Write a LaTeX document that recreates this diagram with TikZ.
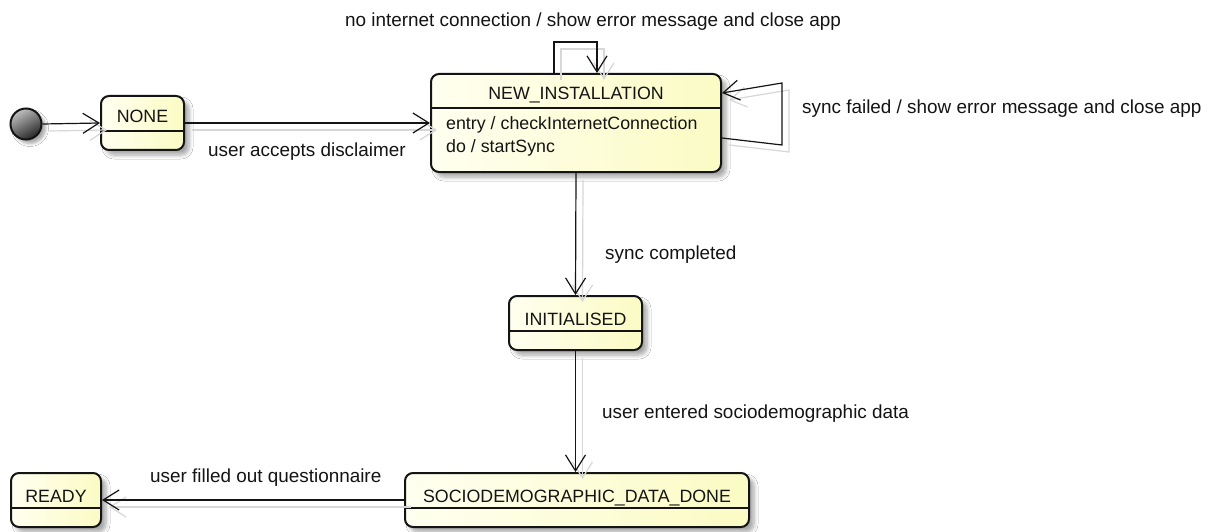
\documentclass[tikz,border=0pt]{standalone}
\usepackage{fontspec}
\setmainfont{Liberation Sans}
\usetikzlibrary{arrows.meta, shadows.blur}

\definecolor{stateLight}{RGB}{255,255,240}
\definecolor{stateDark}{RGB}{251,251,196}
\definecolor{ghost}{RGB}{215,215,215}
\definecolor{ink}{RGB}{20,20,20}

\begin{document}
\begin{tikzpicture}[x=1pt, y=-1pt,
  statebox/.style={draw=ink, line width=2pt, rounded corners=8pt, inner sep=0pt,
    left color=stateLight, right color=stateDark,
    blur shadow={shadow xshift=5pt, shadow yshift=-5pt, shadow blur radius=4pt,
      shadow blur steps=6, shadow opacity=35}},
  startdot/.style={circle, draw=ink, line width=2pt, minimum size=31pt, inner sep=0pt,
    shading=axis, top color=gray!50, bottom color=black!85, shading angle=30,
    blur shadow={shadow xshift=4pt, shadow yshift=-4pt, shadow blur radius=3pt,
      shadow blur steps=5, shadow opacity=35}},
  stitle/.style={inner sep=0pt, text=ink, font=\fontsize{17.8pt}{20pt}\selectfont},
  lbl/.style={inner sep=0pt, text=ink, anchor=base west, font=\fontsize{18.9pt}{21pt}\selectfont},
  divider/.style={draw=ink, line width=1.3pt},
  conn/.style={draw=ink, line width=1.2pt, -{Straight Barb[length=16pt, width=20pt, line width=1.2pt]},
    preaction={draw=ghost, line width=1.2pt, transform canvas={shift={(7pt,-7pt)}}}}
]
\useasboundingbox[fill=white] (0,0) rectangle (1210,532);

% initial pseudo-state
\node[startdot] (start) at (26,124) {};

% states
\node[statebox, minimum width=83pt,  minimum height=54pt] (none)    at (142.5,123) {};
\node[statebox, minimum width=290pt, minimum height=98pt] (newinst) at (576,123)   {};
\node[statebox, minimum width=133pt, minimum height=54pt] (init)    at (575.5,323) {};
\node[statebox, minimum width=344pt, minimum height=54pt] (socio)   at (577,500)   {};
\node[statebox, minimum width=90pt,  minimum height=54pt] (ready)   at (56,500)    {};

% state titles
\node[stitle, anchor=base] (noneT)    at (142.5,123) {NONE};
\node[stitle, anchor=base] (newinstT) at (576,100)   {NEW\_INSTALLATION};
\node[stitle, anchor=base] (initT)    at (575.5,325) {INITIALISED};
\node[stitle, anchor=base] (socioT)   at (577,502)   {SOCIODEMOGRAPHIC\_DATA\_DONE};
\node[stitle, anchor=base] (readyT)   at (56,502)    {READY};

% internal activities
\node[stitle, anchor=base west] (newinstA) at (446,130) {entry / checkInternetConnection};
\node[stitle, anchor=base west] (newinstB) at (446,153) {do / startSync};

% title separators
\draw[divider] (none.west |- 0,131)    -- (none.east |- 0,131);
\draw[divider] (newinst.west |- 0,108) -- (newinst.east |- 0,108);
\draw[divider] (init.west |- 0,331)    -- (init.east |- 0,331);
\draw[divider] (socio.west |- 0,508)   -- (socio.east |- 0,508);
\draw[divider] (ready.west |- 0,508)   -- (ready.east |- 0,508);

% transitions
\draw[conn] (start.east) -- (none.west);
\draw[conn] (none.east) -- (newinst.west);
\draw[conn] ([xshift=-22pt]newinst.north) |- ([xshift=21pt, yshift=31pt]newinst.north)
            -- ([xshift=21pt]newinst.north);
\draw[conn] ([yshift=-15pt]newinst.east) -- ++(60,7) -- ++(0,-62) -- ([yshift=30pt]newinst.east);
\draw[conn] (newinst.south) -- (init.north);
\draw[conn] (init.south) -- (init.south |- socio.north);
\draw[conn] (socio.west) -- (ready.east);

% transition labels
\node[lbl] (lblNoNet)  at (345,27)  {no internet connection / show error message and close app};
\node[lbl] (lblAccept) at (208,157) {user accepts disclaimer};
\node[lbl] (lblFail)   at (802,114) {sync failed / show error message and close app};
\node[lbl] (lblSync)   at (605,259) {sync completed};
\node[lbl] (lblSocio)  at (602,418) {user entered sociodemographic data};
\node[lbl] (lblQuest)  at (150,482) {user filled out questionnaire};
\end{tikzpicture}
\end{document}
